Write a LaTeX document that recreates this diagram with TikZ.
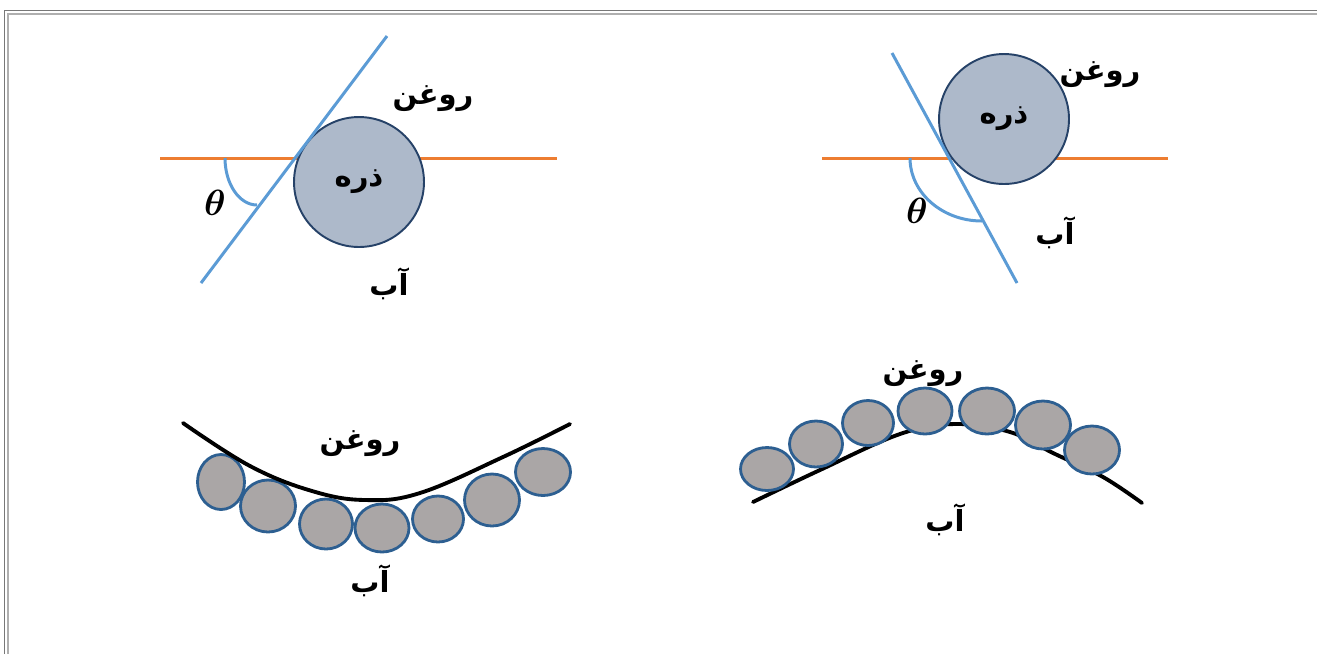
\documentclass[tikz,border=0pt]{standalone}
\usepackage{amsmath,bm}
\usepackage{fontspec}
\usepackage{tikz}
\usetikzlibrary{shapes.geometric}
\TeXXeTstate=1
\newfontfamily\arabicfont[Script=Arabic]{DejaVu Sans}
\definecolor{oilline}{RGB}{237,125,49}
\definecolor{wallline}{RGB}{91,155,213}
\definecolor{grainfill}{RGB}{173,185,202}
\definecolor{grainrule}{RGB}{38,66,104}
\definecolor{beadfill}{RGB}{170,166,166}
\definecolor{beadrule}{RGB}{45,95,145}
\definecolor{framedark}{RGB}{120,120,120}
\definecolor{framelight}{RGB}{175,175,175}
\tikzset{
  interface/.style={line width=1.7pt,draw=oilline},
  wall/.style={line width=1.7pt,draw=wallline},
  grain/.style={circle,draw=grainrule,line width=1.1pt,fill=grainfill,minimum size=2.6cm,inner sep=0pt,font=\arabicfont\bfseries\fontsize{16.5}{19}\selectfont},
  bead/.style={ellipse,draw=beadrule,line width=1.6pt,fill=beadfill,inner sep=0pt},
  film/.style={line width=2.2pt,line cap=round},
  fa/.style={font=\arabicfont\bfseries\fontsize{16.5}{19}\selectfont,inner sep=0pt},
  ang/.style={font=\fontsize{21}{24}\selectfont,inner sep=0pt}
}

\begin{document}
\begin{tikzpicture}[x=0.02cm,y=-0.02cm]
  \useasboundingbox (0,0) rectangle (1317,654);
  % frame
  \draw[framedark,line width=0.6pt] (4.5,654) |- (1317,10.5);
  \draw[framelight,line width=0.6pt] (8,654) |- (1317,14);

  % top left: contact angle below 90
  \draw[interface] (160,158) -- (557,158);
  \node[grain] (g1) at (359,182) {\beginR ذره\endR};
  \draw[wall] (201,283) -- (387,36);
  \draw[wall] (225,158) arc[start angle=180,end angle=90,x radius=32,y radius=47];
  \node[ang] (t1) at (215,203) {$\bm{\theta}$};
  \node[fa] (oil1) at (433,99) {\beginR روغن\endR};
  \node[fa] (wat1) at (389,284) {\beginR آب\endR};

  % top right: contact angle above 90
  \draw[interface] (822,158) -- (1168,158);
  \node[grain] (g2) at (1004,119) {\beginR ذره\endR};
  \draw[wall] (892,53) -- (1017,283);
  \draw[wall] (910,158) arc[start angle=180,end angle=90,x radius=72,y radius=63];
  \node[ang] (t2) at (917,211) {$\bm{\theta}$};
  \node[fa] (oil2) at (1100,75) {\beginR روغن\endR};
  \node[fa] (wat2) at (1055,233) {\beginR آب\endR};

  % bottom left: beads hang below the film
  \foreach \bx/\by/\bw/\bh [count=\i] in {221/482/47/55, 268/506/55/52, 326/524/53/50, 382/528/54/48,
      438/519/51/46, 492/500/55/52, 543/472/55/47}
    \node[bead,minimum width=\bw*0.02cm,minimum height=\bh*0.02cm] (l\i) at (\bx,\by) {};
  \draw[film] plot[smooth,tension=0.65] coordinates {(183,423) (250,466) (312,491) (365,500) (420,493) (503,457) (570,424)};
  \node[fa] (oil3) at (360,444) {\beginR روغن\endR};
  \node[fa] (wat3) at (370,581) {\beginR آب\endR};

  % bottom right: beads sit on the film
  \draw[film] plot[smooth,tension=0.6] coordinates {(753,502) (820,470) (900,434) (955,424) (1010,432) (1053,453) (1103,477) (1142,503)};
  \foreach \bx/\by/\bw/\bh [count=\i] in {767/469/53/43, 816/444/53/46, 868/423/51/45, 925/411/54/46,
      987/411/55/46, 1043/425/55/48, 1092/450/55/48}
    \node[bead,minimum width=\bw*0.02cm,minimum height=\bh*0.02cm] (r\i) at (\bx,\by) {};
  \node[fa] (oil4) at (923,374) {\beginR روغن\endR};
  \node[fa] (wat4) at (945,520) {\beginR آب\endR};
\end{tikzpicture}
\end{document}
